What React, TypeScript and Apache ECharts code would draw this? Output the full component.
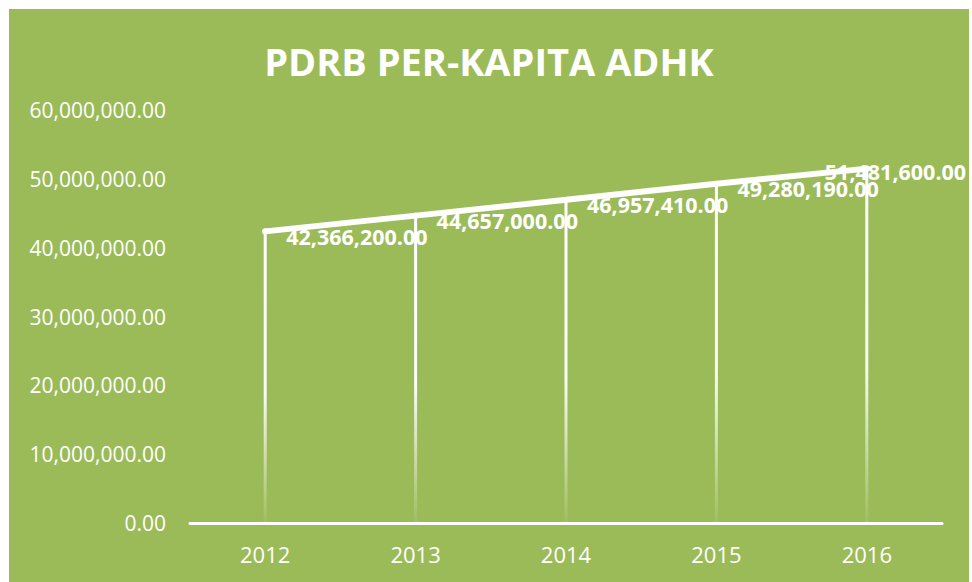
import React, { useEffect, useRef } from "react";
import * as echarts from "echarts";

const years = ["2012", "2013", "2014", "2015", "2016"];
const pdrb = [42366200, 44657000, 46957410, 49280190, 51481600];
const yMin = 0;
const yMax = 60000000;
const yStep = 10000000;
const titleText = "PDRB PER-KAPITA ADHK";

const fmt = (v: number) =>
  v.toLocaleString("en-US", { minimumFractionDigits: 2, maximumFractionDigits: 2 });

export default function App() {
  const ref = useRef<HTMLDivElement>(null);
  useEffect(() => {
    if (!ref.current) return;
    const chart = echarts.init(ref.current, undefined, { renderer: "svg" });
    const font = "'Open Sans', sans-serif";
    chart.setOption({
      animation: false,
      backgroundColor: "#9BBB59",
      title: {
        text: titleText,
        left: "center",
        top: 26,
        textStyle: {
          color: "#ffffff",
          fontFamily: font,
          fontWeight: "bold",
          fontSize: 38,
          lineHeight: 42,
        },
      },
      grid: { left: 181, right: 27, top: 101, bottom: 59, containLabel: false },
      xAxis: {
        type: "category",
        data: years,
        boundaryGap: true,
        axisLine: { show: true, lineStyle: { color: "#ffffff", width: 3 } },
        axisTick: { show: false },
        axisLabel: {
          color: "#ffffff",
          fontFamily: font,
          fontSize: 22,
          margin: 20,
        },
        splitLine: { show: false },
      },
      yAxis: {
        type: "value",
        min: yMin,
        max: yMax,
        interval: yStep,
        axisLine: { show: false },
        axisTick: { show: false },
        splitLine: { show: false },
        axisLabel: {
          color: "#ffffff",
          fontFamily: font,
          fontSize: 21,
          margin: 24,
          formatter: (v: number) => fmt(v),
        },
      },
      series: [
        {
          type: "bar",
          data: pdrb,
          barWidth: 3,
          silent: true,
          itemStyle: {
            color: new echarts.graphic.LinearGradient(0, 0, 0, 1, [
              { offset: 0, color: "rgba(255,255,255,1)" },
              { offset: 0.55, color: "rgba(255,255,255,0.95)" },
              { offset: 1, color: "rgba(255,255,255,0.05)" },
            ]),
          },
        },
        {
          type: "line",
          data: pdrb.map((v, i) =>
            i === pdrb.length - 1
              ? { value: v, label: { offset: [-63, 3] } }
              : { value: v }
          ),
          symbol: "circle",
          symbolSize: 6,
          itemStyle: { color: "#ffffff" },
          lineStyle: { color: "#ffffff", width: 6, cap: "round" },
          label: {
            show: true,
            position: "right",
            distance: 18,
            offset: [0, 5],
            color: "#ffffff",
            fontFamily: font,
            fontWeight: "bold",
            fontSize: 21.5,
            formatter: (p: any) => fmt(p.value),
          },
          z: 5,
        },
      ],
    });
    return () => chart.dispose();
  }, []);
  return (
    <div
      ref={ref}
      style={{ position: "fixed", left: 9, top: 9, width: 960, height: 573 }}
    />
  );
}
